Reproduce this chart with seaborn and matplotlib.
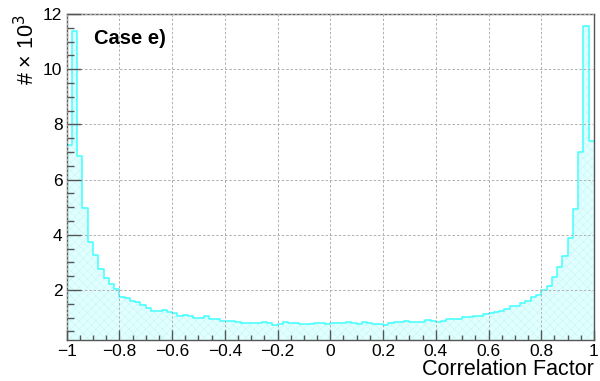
#Histograma del factor de correlacion (Case e)
import numpy as np
import pandas as pd
import seaborn as sns
import matplotlib.pyplot as plt
from matplotlib.ticker import MultipleLocator

#Datos: 100 bins de -1 a 1, cuentas en miles
bin_edges = list(np.round(np.linspace(-1, 1, 101), 4))
counts_k = [7.27, 11.37, 6.87, 4.97, 3.73, 3.28, 2.76, 2.44, 2.22, 2.04,
            1.76, 1.70, 1.60, 1.55, 1.47, 1.34, 1.23, 1.23, 1.26, 1.21,
            1.16, 1.06, 1.08, 1.07, 0.97, 0.97, 1.04, 0.94, 0.96, 0.89,
            0.88, 0.88, 0.84, 0.79, 0.79, 0.80, 0.79, 0.82, 0.79, 0.73,
            0.78, 0.83, 0.80, 0.80, 0.76, 0.77, 0.78, 0.79, 0.80, 0.78,
            0.79, 0.80, 0.80, 0.83, 0.80, 0.77, 0.85, 0.80, 0.78, 0.76,
            0.73, 0.79, 0.83, 0.85, 0.86, 0.85, 0.84, 0.82, 0.90, 0.88,
            0.85, 0.86, 0.94, 0.94, 0.94, 1.01, 1.01, 1.05, 1.05, 1.12,
            1.18, 1.21, 1.25, 1.32, 1.40, 1.40, 1.52, 1.60, 1.76, 1.82,
            2.00, 2.16, 2.48, 2.82, 3.23, 3.90, 4.93, 6.99, 11.57, 7.40]
bin_centers = [(a + b) / 2 for a, b in zip(bin_edges[:-1], bin_edges[1:])]
df = pd.DataFrame({"corr": bin_centers, "n": counts_k})

sns.set_style("white")
plt.rcParams['font.family'] = ['Liberation Sans', 'DejaVu Sans']
plt.rcParams['text.color'] = 'black'
plt.rcParams['axes.labelcolor'] = 'black'
plt.rcParams['hatch.linewidth'] = 0.3

fig = plt.figure(figsize=(6.0, 3.81), dpi=100)
ax = fig.add_axes([0.111, 0.108, 0.879, 0.855])

# relleno con trama
sns.histplot(data=df, x="corr", weights="n", bins=bin_edges, element="step",
             fill=True, color="#00ffff", ax=ax)
fill = ax.collections[0]
fill.set_facecolor('#e0ffff')
fill.set_edgecolor('#c8f0f0')
fill.set_linewidth(0)
fill.set_hatch('xxxx')
fill.set_alpha(1)

# contorno cian
sns.histplot(data=df, x="corr", weights="n", bins=bin_edges, element="step",
             fill=False, color="#40ffff", linewidth=1.1, ax=ax)

ax.set_xlim(-1, 1)
ax.set_ylim(0.19, 12.0)

ax.xaxis.set_minor_locator(MultipleLocator(0.05))
ax.yaxis.set_minor_locator(MultipleLocator(0.5))
ax.set_xticks(np.arange(-1, 1.01, 0.2))
ax.set_xticklabels(['\u22121', '\u22120.8', '\u22120.6', '\u22120.4', '\u22120.2',
                    '0', '0.2', '0.4', '0.6', '0.8', '1'])
ax.set_yticks([2, 4, 6, 8, 10, 12])
ax.set_yticklabels(['2', '4', '6', '8', '10', '12'])

ax.tick_params(axis='both', which='both', direction='in', top=False, right=False,
               bottom=True, left=True, labelsize=12.5, colors='#555555',
               labelcolor='black')
ax.tick_params(axis='x', which='major', length=7, width=1, pad=3)
ax.tick_params(axis='x', which='minor', length=3.5, width=1)
ax.tick_params(axis='y', which='major', length=10, width=1, pad=3)
ax.tick_params(axis='y', which='minor', length=5, width=1)

ax.grid(True, which='major', color='#b0b0b0', linestyle=(0, (2.5, 2)), linewidth=0.7)
ax.set_axisbelow(False)
for sp in ax.spines.values():
    sp.set_color('#555555')
    sp.set_linewidth(1)

ax.set_xlabel('Correlation Factor', fontsize=15.5, loc='right', labelpad=0)
ax.set_ylabel('# \u00d7 10$^{3}$', fontsize=15.5, loc='top', labelpad=3)

ax.text(0.052, 0.925, 'Case e)', transform=ax.transAxes, fontsize=14.5,
        fontweight='bold', va='center', ha='left')

plt.savefig('out.png', dpi=100)
